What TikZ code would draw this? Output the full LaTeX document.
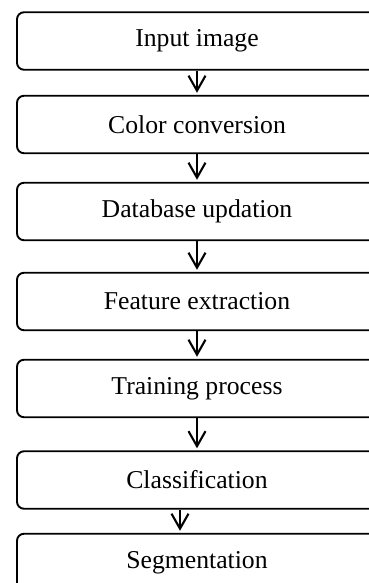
\documentclass[tikz,border=0pt]{standalone}
\usepackage{fontspec}
\setmainfont{Liberation Serif}
\usetikzlibrary{arrows.meta}
\begin{document}
\begin{tikzpicture}[x=1pt,y=1pt,
  stepbox/.style={draw=black, line width=1.9pt, rounded corners=7pt,
    minimum width=360pt, minimum height=57.5pt, inner sep=0pt,
    font=\fontsize{25.7}{30}\selectfont},
  arr/.style={line width=1.9pt, shorten >=2pt, -{Straight Barb[length=15pt,width=17pt,line width=2.1pt]}}]
\useasboundingbox (0,0) rectangle (369,-583);
\clip (0,0) rectangle (369,-583);
\node[stepbox] (a) at (197,-41) {Input image};
\node[stepbox] (b) at (197,-124.5) {Color conversion};
\node[stepbox] (c) at (197,-211.5) {Database updation};
\node[stepbox] (d) at (197,-301.5) {Feature extraction};
\node[stepbox] (e) at (197,-388.5) {Training process};
\node[stepbox] (f) at (197,-480) {Classification};
\node[stepbox] (g) at (197,-562.5) {Segmentation};
\draw[arr] (a.south) -- (b.north);
\draw[arr] (b.south) -- (c.north);
\draw[arr] (c.south) -- (d.north);
\draw[arr] (d.south) -- (e.north);
\draw[arr] (e.south) -- (f.north);
\draw[arr] ([xshift=-17pt]f.south) -- ([xshift=-17pt]g.north);
\end{tikzpicture}
\end{document}
